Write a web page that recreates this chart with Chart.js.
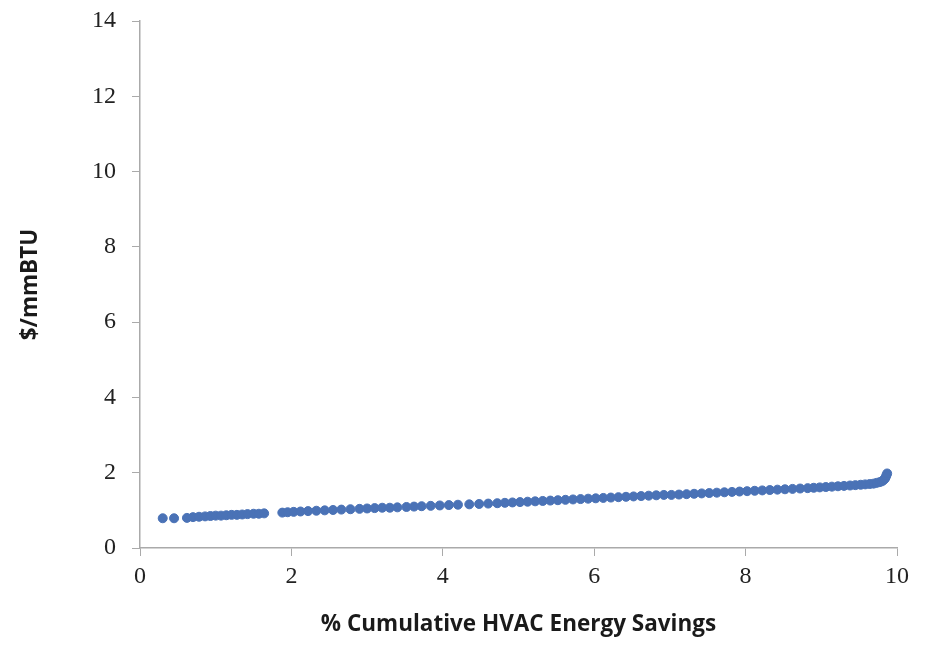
<!DOCTYPE html>
<html lang="en">
<head>
  <meta charset="UTF-8" />
  <title>Cost of saved energy</title>
  <script src="https://cdn.jsdelivr.net/npm/chart.js"></script>
  <style>
    body { margin: 0; background: #ffffff; }
    #wrap { width: 936px; height: 647px; position: relative; }
  </style>
</head>
<body>
  <div id="wrap"><canvas id="costChart"></canvas></div>
  <script>
    // % cumulative HVAC energy savings
    const savingsPct = [0.30, 0.45, 0.62, 0.70, 0.78, 0.86, 0.93, 1.00, 1.07, 1.14, 1.21, 1.28, 1.35, 1.42, 1.50, 1.57, 1.64,
      1.88, 1.95, 2.03, 2.12, 2.22, 2.33, 2.44, 2.55, 2.66, 2.78, 2.90, 3.00, 3.10, 3.20, 3.30, 3.40, 3.52, 3.62, 3.72, 3.84, 3.96,
      4.08, 4.20, 4.35, 4.48, 4.60, 4.72, 4.82, 4.92, 5.02, 5.12, 5.22, 5.32, 5.42, 5.52, 5.62, 5.72, 5.82, 5.92,
      6.02, 6.12, 6.22, 6.32, 6.42, 6.52, 6.62, 6.72, 6.82, 6.92, 7.02, 7.12, 7.22, 7.32, 7.42, 7.52, 7.62, 7.72, 7.82, 7.92,
      8.02, 8.12, 8.22, 8.32, 8.42, 8.52, 8.62, 8.72, 8.82, 8.90, 8.98, 9.06, 9.14, 9.22, 9.30, 9.38, 9.45, 9.52, 9.58, 9.64,
      9.69, 9.73, 9.77, 9.80, 9.82, 9.84, 9.85, 9.86, 9.87];
    // $/mmBTU
    const costPerMmbtu = [0.79, 0.79, 0.80, 0.82, 0.83, 0.84, 0.85, 0.86, 0.86, 0.87, 0.88, 0.88, 0.89, 0.90, 0.91, 0.91, 0.92,
      0.94, 0.95, 0.96, 0.97, 0.98, 0.99, 1.00, 1.01, 1.02, 1.03, 1.04, 1.05, 1.06, 1.07, 1.07, 1.08, 1.09, 1.10, 1.11, 1.12, 1.13,
      1.14, 1.15, 1.16, 1.17, 1.18, 1.19, 1.20, 1.21, 1.22, 1.23, 1.24, 1.25, 1.26, 1.27, 1.28, 1.29, 1.30, 1.31,
      1.32, 1.33, 1.34, 1.35, 1.36, 1.37, 1.38, 1.39, 1.40, 1.41, 1.41, 1.42, 1.43, 1.44, 1.45, 1.46, 1.47, 1.48, 1.49, 1.50,
      1.51, 1.52, 1.53, 1.54, 1.55, 1.56, 1.57, 1.58, 1.59, 1.60, 1.61, 1.62, 1.63, 1.64, 1.65, 1.66, 1.67, 1.68, 1.69, 1.70,
      1.71, 1.73, 1.75, 1.77, 1.80, 1.84, 1.88, 1.93, 1.98];

    const xTitle = '% Cumulative HVAC Energy Savings';
    const yTitle = '$/mmBTU';

    const points = savingsPct.map((x, i) => ({ x: x, y: costPerMmbtu[i] }));

    const tickFont = { family: '"Liberation Serif", serif', size: 24 };
    const titleFont = { family: '"Open Sans", sans-serif', size: 22.5, weight: 'bold' };

    new Chart(document.getElementById('costChart'), {
      type: 'scatter',
      data: {
        datasets: [{
          data: points,
          backgroundColor: '#4a72b6',
          borderColor: '#4a72b6',
          pointRadius: 4.5,
          pointHoverRadius: 4.5
        }]
      },
      options: {
        responsive: true,
        maintainAspectRatio: false,
        animation: false,
        layout: { padding: { top: 21, right: 39, left: 0, bottom: 0 } },
        plugins: { legend: { display: false }, tooltip: { enabled: false } },
        scales: {
          x: {
            type: 'linear',
            min: 0, max: 10,
            ticks: { stepSize: 2, font: tickFont, color: '#222', padding: 6 },
            grid: { drawOnChartArea: false, drawTicks: true, tickLength: 8, color: '#aaaaaa' },
            border: { display: true, color: '#aaaaaa', width: 1.5 },
            title: { display: true, text: xTitle, font: titleFont, color: '#1a1a1a', padding: { top: 4, bottom: 9 } },
            afterFit: s => { s.height = 99; }
          },
          y: {
            min: 0, max: 14,
            ticks: { stepSize: 2, font: tickFont, color: '#222', padding: 16 },
            grid: { drawOnChartArea: false, drawTicks: true, tickLength: 8, color: '#aaaaaa' },
            border: { display: true, color: '#aaaaaa', width: 1.5 },
            title: { display: true, text: yTitle, font: titleFont, color: '#1a1a1a', padding: { top: 17, bottom: 4 } },
            afterFit: s => { s.width = 140; s.paddingTop = 0; }
          }
        }
      }
    });
  </script>
</body>
</html>
